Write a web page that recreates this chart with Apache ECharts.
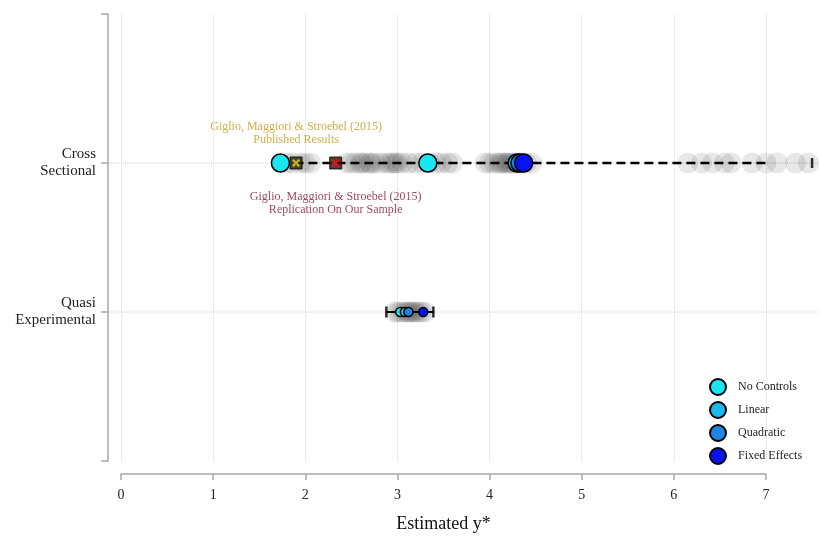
<!DOCTYPE html>
<html>
<head>
<meta charset="utf-8">
<script src="https://cdn.jsdelivr.net/npm/echarts@6/dist/echarts.min.js"></script>
<style>html,body{margin:0;padding:0;background:#fff}#c{width:820px;height:537px}</style>
</head>
<body>
<div id="c"></div>
<script>
// Row positions on the vertical axis
var rowCross = 2, rowQuasi = 1;
var rowLabels = {1: 'Quasi\nExperimental', 2: 'Cross\nSectional'};
var xTicks = [0, 1, 2, 3, 4, 5, 6, 7];

// Grey "specification" estimates (translucent)
var crossSpecs = [1.80, 1.86, 1.95, 2.00, 2.06,
  2.45, 2.50, 2.55, 2.60, 2.62, 2.66, 2.70, 2.72, 2.76, 2.82, 2.88, 2.92, 2.95, 2.98, 3.00, 3.05,
  3.12, 3.20, 3.27, 3.35, 3.42, 3.48, 3.55, 3.60,
  3.95, 4.00, 4.05, 4.10, 4.12, 4.15, 4.18, 4.20, 4.22, 4.25, 4.28, 4.30, 4.33, 4.36, 4.40, 4.46,
  6.15, 6.30, 6.42, 6.55, 6.62, 6.85, 7.00, 7.12, 7.32, 7.46];
var quasiSpecs = [2.97, 3.00, 3.03, 3.06, 3.09, 3.11, 3.13, 3.15, 3.17, 3.19, 3.21, 3.24, 3.27, 3.30];

// Range bars
var crossRange = [1.73, 7.50];
var quasiRange = [2.88, 3.39];

// Model estimates
var noControlsCross = [1.73, 3.33], noControlsQuasi = [3.03];
var linearCross = [4.30], linearQuasi = [3.08];
var quadraticCross = [4.33], quadraticQuasi = [3.12];
var fixedCross = [4.37], fixedQuasi = [3.28];

// Reference points
var publishedGMS = [1.90];
var replicationGMS = [2.33];

var serif = 'Liberation Serif';
function pts(xs, y, size) {
  return xs.map(function (x) { return {value: [x, y], symbolSize: size}; });
}
function est(name, color, cross, quasi) {
  return {
    name: name, type: 'scatter', z: 5,
    data: pts(cross, rowCross, 18).concat(pts(quasi, rowQuasi, 9)),
    itemStyle: {color: color, borderColor: '#000', borderWidth: 1.5, opacity: 1},
    emphasis: {disabled: true}
  };
}
function rowLine(y) {
  return {type: 'line', silent: true, symbol: 'none', z: 1, xAxisIndex: 1, yAxisIndex: 1,
    data: [[0, y], [1, y]], lineStyle: {color: '#cfcfcf', type: 'dotted', width: 1}};
}
var xPath = 'path://M2,0 L5,3 L8,0 L10,2 L7,5 L10,8 L8,10 L5,7 L2,10 L0,8 L3,5 L0,2 Z';

var chart = echarts.init(document.getElementById('c'), null, {renderer: 'canvas'});
chart.setOption({
  animation: false,
  grid: [
    {left: 121, right: 54, top: 14, bottom: 76, containLabel: false, outerBoundsMode: 'none'},
    {left: 109, right: 2, top: 14, bottom: 76, containLabel: false, outerBoundsMode: 'none'}
  ],
  xAxis: [{
    type: 'value', min: 0, max: 7, interval: 1, offset: 13,
    axisLine: {onZero: false, lineStyle: {color: '#a8a8a8', width: 1.5}},
    axisTick: {show: true, length: 6, lineStyle: {color: '#a8a8a8', width: 1.5}},
    axisLabel: {fontFamily: serif, fontSize: 14, color: '#222', margin: 14,
      formatter: function (v) { return xTicks.indexOf(v) >= 0 ? String(v) : ''; }},
    splitLine: {show: true, lineStyle: {color: '#dcdcdc', type: 'dotted', width: 1}},
    name: 'Estimated y*', nameLocation: 'middle', nameGap: 41,
    nameTextStyle: {fontFamily: serif, fontSize: 18, color: '#111'}
  }, {
    gridIndex: 1, type: 'value', min: 0, max: 1, show: false
  }],
  yAxis: [{
    type: 'value', min: 0, max: 3, interval: 1, offset: 13,
    axisLine: {show: true, onZero: false, lineStyle: {color: '#a8a8a8', width: 1.5}},
    axisTick: {show: true, length: 7, lineStyle: {color: '#a8a8a8', width: 1.5}},
    axisLabel: {fontFamily: serif, fontSize: 15, color: '#222', margin: 12, lineHeight: 17,
      align: 'right', formatter: function (v) { return rowLabels[v] || ''; }},
    splitLine: {show: false}
  }, {
    gridIndex: 1, type: 'value', min: 0, max: 3, show: false
  }],
  legend: {
    orient: 'vertical', left: 704, top: 373, itemWidth: 16, itemHeight: 16, itemGap: 5,
    icon: 'circle',
    data: ['No Controls', 'Linear', 'Quadratic', 'Fixed Effects'],
    textStyle: {fontFamily: serif, fontSize: 12, color: '#222', padding: [0, 0, 0, 7]}
  },
  series: [
    rowLine(rowCross),
    rowLine(rowQuasi),
    {type: 'scatter', silent: true, clip: false, z: 2, symbolSize: 21,
      data: crossSpecs.map(function (x) { return [x, rowCross]; }),
      itemStyle: {color: 'rgba(30,30,30,0.12)', shadowBlur: 5, shadowColor: 'rgba(0,0,0,0.12)'}},
    {type: 'scatter', silent: true, clip: false, z: 2, symbolSize: 21,
      data: quasiSpecs.map(function (x) { return [x, rowQuasi]; }),
      itemStyle: {color: 'rgba(30,30,30,0.11)', shadowBlur: 5, shadowColor: 'rgba(0,0,0,0.12)'}},
    {type: 'line', silent: true, clip: false, symbol: 'none', z: 3,
      data: crossRange.map(function (x) { return [x, rowCross]; }),
      lineStyle: {color: '#000', type: [9, 5], width: 2.5}},
    {type: 'line', silent: true, clip: false, symbol: 'none', z: 3,
      data: quasiRange.map(function (x) { return [x, rowQuasi]; }),
      lineStyle: {color: '#000', width: 2}},
    {type: 'scatter', silent: true, clip: false, z: 3, symbol: 'rect',
      data: crossRange.map(function (x) { return {value: [x, rowCross], symbolSize: [2.5, 10]}; })
        .concat(quasiRange.map(function (x) { return {value: [x, rowQuasi], symbolSize: [2.5, 11]}; })),
      itemStyle: {color: '#000'}},
    est('No Controls', '#19e6f0', noControlsCross, noControlsQuasi),
    est('Linear', '#1cb8ee', linearCross, linearQuasi),
    est('Quadratic', '#1e84e6', quadraticCross, quadraticQuasi),
    est('Fixed Effects', '#0a12ee', fixedCross, fixedQuasi),
    {type: 'scatter', silent: true, clip: false, z: 6, symbol: 'rect', symbolSize: 12,
      data: publishedGMS.map(function (x) { return [x, rowCross]; }),
      itemStyle: {color: '#2a2408', borderColor: '#000', borderWidth: 1},
      label: {show: true, position: 'top', distance: 10, align: 'center',
        formatter: 'Giglio, Maggiori & Stroebel (2015)\nPublished Results',
        fontFamily: serif, fontSize: 12, lineHeight: 13, color: '#bf9a1c'}},
    {type: 'scatter', silent: true, clip: false, z: 7, symbol: xPath, symbolSize: 8,
      data: publishedGMS.map(function (x) { return [x, rowCross]; }),
      itemStyle: {color: '#f2d21a'}},
    {type: 'scatter', silent: true, clip: false, z: 6, symbol: 'rect', symbolSize: 12,
      data: replicationGMS.map(function (x) { return [x, rowCross]; }),
      itemStyle: {color: '#3a0808', borderColor: '#000', borderWidth: 1},
      label: {show: true, position: 'bottom', distance: 21, align: 'center',
        formatter: 'Giglio, Maggiori & Stroebel (2015)\nReplication On Our Sample',
        fontFamily: serif, fontSize: 12, lineHeight: 13, color: '#8c1636'}},
    {type: 'scatter', silent: true, clip: false, z: 7, symbol: xPath, symbolSize: 8,
      data: replicationGMS.map(function (x) { return [x, rowCross]; }),
      itemStyle: {color: '#ee1010'}}
  ]
});
</script>
</body>
</html>
